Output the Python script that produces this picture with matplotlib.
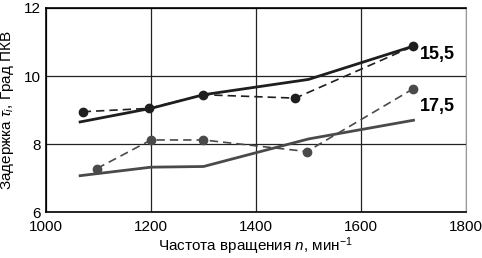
import matplotlib
matplotlib.use("Agg")
import matplotlib.pyplot as plt

plt.rcParams['font.family'] = ['Liberation Sans', 'DejaVu Sans']
plt.rcParams['mathtext.fontset'] = 'custom'
plt.rcParams['mathtext.rm'] = 'Liberation Sans'
plt.rcParams['mathtext.it'] = 'Liberation Sans:italic'

# 15,5 series
n_155_exp = [1070, 1197, 1300, 1475, 1700]
t_155_exp = [8.95, 9.05, 9.45, 9.35, 10.88]
n_155_calc = [1065, 1200, 1300, 1500, 1700]
t_155_calc = [8.65, 9.05, 9.45, 9.9, 10.88]

# 17,5 series
n_175_exp = [1097, 1200, 1300, 1497, 1700]
t_175_exp = [7.28, 8.12, 8.12, 7.78, 9.63]
n_175_calc = [1065, 1200, 1300, 1500, 1700]
t_175_calc = [7.07, 7.32, 7.34, 8.15, 8.7]

labels = ['15,5', '17,5']

fig = plt.figure(figsize=(4.82, 2.58), dpi=100)
ax = fig.add_axes([0.0954, 0.178, 0.8714, 0.791])

c1 = '#1e1e1e'
c2 = '#4a4a4a'
ax.plot(n_155_calc, t_155_calc, color=c1, lw=2)
ax.plot(n_155_exp, t_155_exp, color=c1, lw=1.2, ls=(0, (5, 3)), marker='o', ms=6)
ax.plot(n_175_calc, t_175_calc, color=c2, lw=2)
ax.plot(n_175_exp, t_175_exp, color=c2, lw=1.2, ls=(0, (5, 3)), marker='o', ms=6)

ax.text(1712, 10.62, labels[0], fontsize=13, fontweight='bold', va='center', ha='left')
ax.text(1712, 9.1, labels[1], fontsize=13, fontweight='bold', va='center', ha='left')

ax.set_xlim(1000, 1800)
ax.set_ylim(6, 12)
ax.set_xticks([1000, 1200, 1400, 1600, 1800])
ax.set_yticks([6, 8, 10, 12])
ax.grid(True, color='#222222', lw=0.9)
ax.tick_params(length=0, labelsize=11)
ax.tick_params(axis='x', pad=6)
ax.tick_params(axis='y', pad=4)
for s in ['left', 'bottom', 'top']:
    ax.spines[s].set_linewidth(1.2)
ax.spines['right'].set_color('#999999')

ax.set_xlabel('Частота вращения $\\mathit{n}$, мин$^{-1}$', fontsize=11, labelpad=1)
ax.set_ylabel('Задержка $\\tau_i$, Град ПКВ', fontsize=11, labelpad=5)

fig.savefig('out.png', dpi=100)
